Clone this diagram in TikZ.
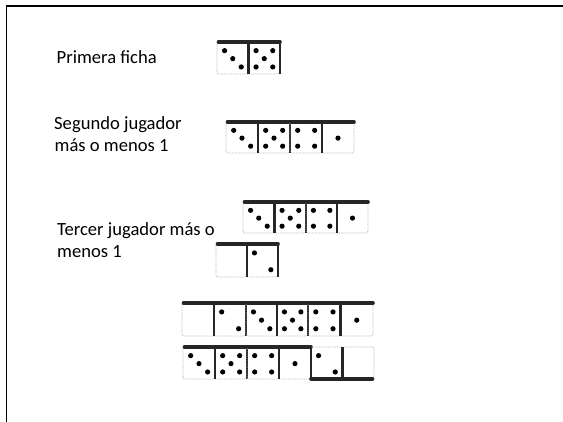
\documentclass[tikz,border=0pt]{standalone}
\usepackage{fontspec}
\setmainfont{Carlito}

% pips of one half of a tile: x, y (top left), width, height, count
\newcommand\puntos[5]{%
  \ifcase#5\relax
  \or
    \fill[pip] (#1+0.50*#3,#2+0.52*#4) circle[radius=2.6];
  \or
    \fill[pip] (#1+0.24*#3,#2+0.27*#4) circle[radius=2.6];
    \fill[pip] (#1+0.77*#3,#2+0.78*#4) circle[radius=2.6];
  \or
    \fill[pip] (#1+0.24*#3,#2+0.27*#4) circle[radius=2.6];
    \fill[pip] (#1+0.50*#3,#2+0.52*#4) circle[radius=2.6];
    \fill[pip] (#1+0.77*#3,#2+0.78*#4) circle[radius=2.6];
  \or
    \fill[pip] (#1+0.24*#3,#2+0.27*#4) circle[radius=2.6];
    \fill[pip] (#1+0.77*#3,#2+0.27*#4) circle[radius=2.6];
    \fill[pip] (#1+0.24*#3,#2+0.78*#4) circle[radius=2.6];
    \fill[pip] (#1+0.77*#3,#2+0.78*#4) circle[radius=2.6];
  \or
    \fill[pip] (#1+0.24*#3,#2+0.27*#4) circle[radius=2.6];
    \fill[pip] (#1+0.77*#3,#2+0.27*#4) circle[radius=2.6];
    \fill[pip] (#1+0.50*#3,#2+0.52*#4) circle[radius=2.6];
    \fill[pip] (#1+0.24*#3,#2+0.78*#4) circle[radius=2.6];
    \fill[pip] (#1+0.77*#3,#2+0.78*#4) circle[radius=2.6];
  \fi}

% a domino tile: x, y (top left), half width, height, left pips, right pips,
% 1 for a dark right side
\newcommand\ficha[7]{%
  \draw[borde] (#1,#2) rectangle ++(2*#3,#4);
  \draw[canto] (#1+1.5,#2) -- (#1+2*#3,#2);
  \draw[division] (#1+#3,#2) -- (#1+#3,#2+#4);
  \ifnum#7=1 \draw[lado] (#1+2*#3,#2-1) -- (#1+2*#3,#2+#4);\fi
  \puntos{#1}{#2}{#3}{#4}{#5}%
  \puntos{#1+#3}{#2}{#3}{#4}{#6}}

\tikzset{
  borde/.style={gray!65, densely dotted, line width=0.8pt, rounded corners=2pt},
  canto/.style={black!85, line width=3.6pt, line cap=round},
  division/.style={black!85, line width=2.2pt},
  lado/.style={black!85, line width=2.8pt},
  pip/.style={black},
  rotulo/.style={anchor=base west, inner sep=0pt, font=\fontsize{18.6}{22}\selectfont},
  marco/.style={black, line width=1.4pt}
}

\begin{document}
\begin{tikzpicture}[x=1pt, y=-1pt]
  \useasboundingbox (0,0) rectangle (563,422);
  \fill[white] (0,0) rectangle (563,422);

  % page frame
  \draw[marco] (6.3,422) -- (6.3,6) -- (563,6);

  % labels
  \node[rotulo] (primera) at (56.5,64) {Primera ficha};
  \node[rotulo] (segundo1) at (54,130) {Segundo jugador};
  \node[rotulo] (segundo2) at (54.5,151.5) {más o menos 1};
  \node[rotulo] (tercero1) at (57,236) {Tercer jugador más o};
  \node[rotulo] (tercero2) at (57,257.5) {menos 1};

  % first tile
  \ficha{217}{42}{31.5}{32}{3}{5}{1}

  % second player
  \ficha{226}{122}{32}{31}{3}{5}{1}
  \ficha{290}{122}{32}{31}{4}{1}{0}

  % third player
  \ficha{243}{202}{31.5}{31}{3}{5}{1}
  \ficha{306}{202}{31}{31}{4}{1}{0}
  \ficha{216}{244}{31}{33}{0}{2}{1}

  % resulting lines
  \ficha{182}{303}{32}{33}{0}{2}{1}
  \ficha{246}{303}{31}{33}{3}{5}{1}
  \ficha{308}{303}{32.5}{33}{4}{1}{0}

  \ficha{183}{347}{32}{32}{3}{5}{1}
  \ficha{247}{347}{32}{32}{4}{1}{0}
  % last tile lies turned round: dark bottom and left sides
  \draw[borde] (311,347) rectangle (374,379);
  \draw[canto] (311,379) -- (372.5,379);
  \draw[division] (342.5,347) -- (342.5,379);
  \draw[lado] (311,347) -- (311,380);
  \puntos{311}{347}{31.5}{32}{2}
\end{tikzpicture}
\end{document}
